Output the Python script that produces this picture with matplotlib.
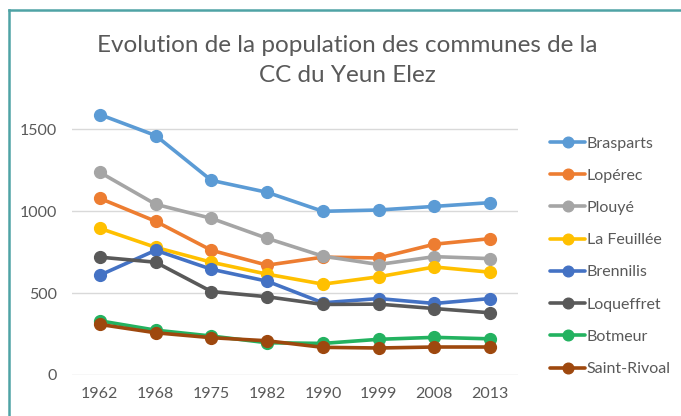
import matplotlib
matplotlib.use("Agg")
from matplotlib import pyplot as plt
from matplotlib.lines import Line2D

# Données
annees = ['1962', '1968', '1975', '1982', '1990', '1999', '2008', '2013']
communes = ['Brasparts', 'Lopérec', 'Plouyé', 'La Feuillée',
            'Brennilis', 'Loqueffret', 'Botmeur', 'Saint-Rivoal']
brasparts = [1591, 1463, 1189, 1116, 1000, 1008, 1030, 1053]
loperec = [1079, 939, 762, 671, 720, 715, 799, 833]
plouye = [1238, 1043, 957, 835, 726, 675, 723, 711]
la_feuillee = [896, 780, 689, 616, 555, 600, 660, 628]
brennilis = [610, 762, 646, 573, 441, 467, 437, 467]
loqueffret = [720, 689, 510, 478, 431, 433, 406, 380]
botmeur = [331, 274, 238, 197, 193, 218, 230, 221]
saint_rivoal = [309, 258, 228, 209, 169, 165, 171, 171]
series = [brasparts, loperec, plouye, la_feuillee,
          brennilis, loqueffret, botmeur, saint_rivoal]
couleurs = ['#5B9BD5', '#ED7D31', '#A5A5A5', '#FFC000',
            '#4472C4', '#595959', '#23B260', '#9E480E']

plt.rcParams['font.family'] = ['Lato', 'DejaVu Sans']
gris = '#595959'

fig = plt.figure(figsize=(6.81, 4.16), dpi=100)
ax = fig.add_axes([72/681, 1 - 375/416, (518 - 72)/681, (375 - 100)/416])

x = list(range(len(annees)))
for vals, nom, c in zip(series, communes, couleurs):
    ax.plot(x, vals, color=c, lw=2.6, marker='o', ms=8.5, label=nom,
            solid_capstyle='round')

ax.set_xlim(-0.5, len(annees) - 0.5)
ax.set_ylim(0, 1680)
ax.set_yticks([0, 500, 1000, 1500])
ax.set_xticks(x)
ax.set_xticklabels(annees)
ax.grid(axis='y', color='#D9D9D9', lw=1)
ax.set_axisbelow(True)
for s in ax.spines.values():
    s.set_visible(False)
ax.tick_params(length=0, labelsize=11.5, labelcolor=gris)
ax.tick_params(axis='y', pad=11)
ax.tick_params(axis='x', pad=9)

leg = ax.legend(loc='upper left', bbox_to_anchor=(1.04, 0.92), frameon=False,
                fontsize=11.5, labelspacing=1.13, handlelength=2.2,
                handletextpad=0.1, markerscale=0.9)
for t in leg.get_texts():
    t.set_color(gris)

fig.text(0.51, 1 - 45/416, 'Evolution de la population des communes de la',
         ha='center', va='center', fontsize=17.5, color=gris)
fig.text(0.51, 1 - 76/416, 'CC du Yeun Elez',
         ha='center', va='center', fontsize=17.5, color=gris)

# bordure du cadre
bord = '#4FA3A5'
fig.add_artist(Line2D([8.5/681, 8.5/681], [0, 1 - 10/416], color=bord, lw=1.8))
fig.add_artist(Line2D([8.5/681, 1], [1 - 10/416, 1 - 10/416], color=bord, lw=1.8))

fig.savefig('out.png', dpi=100)
